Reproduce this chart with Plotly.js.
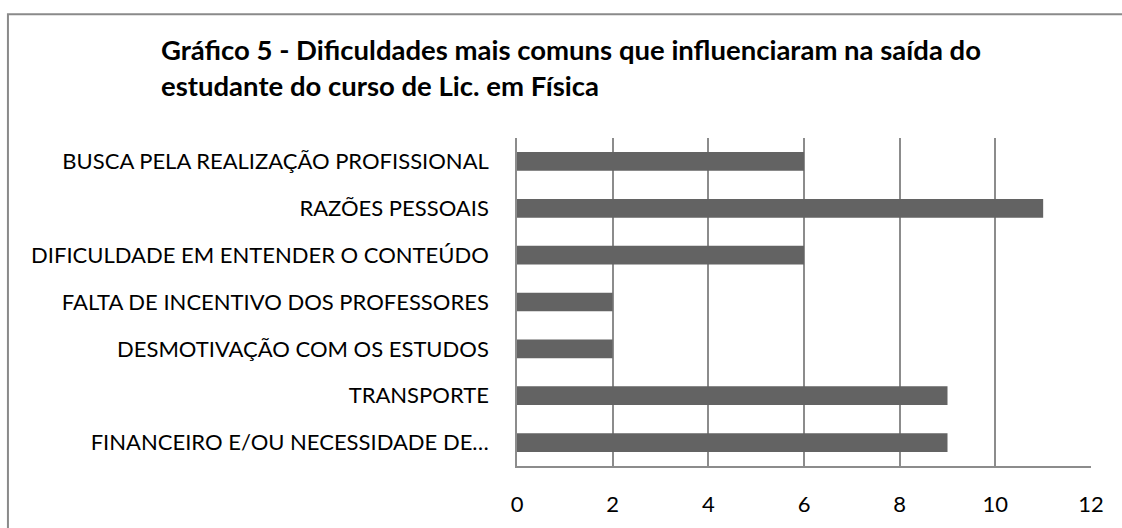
<!DOCTYPE html>
<html>
<head>
<meta charset="utf-8">
<script src="https://cdn.plot.ly/plotly-3.0.1.min.js"></script>
<style>
html,body{margin:0;padding:0;background:#fff;}
#chart{width:1122px;height:528px;}
</style>
</head>
<body>
<div id="chart"></div>
<script>
const categories = [
  "BUSCA PELA REALIZAÇÃO PROFISSIONAL",
  "RAZÕES PESSOAIS",
  "DIFICULDADE EM ENTENDER O CONTEÚDO",
  "FALTA DE INCENTIVO DOS PROFESSORES",
  "DESMOTIVAÇÃO COM OS ESTUDOS",
  "TRANSPORTE",
  "FINANCEIRO E/OU NECESSIDADE DE…"
];
const values = [6, 11, 6, 2, 2, 9, 9];
const xTicks = [0, 2, 4, 6, 8, 10, 12];
const titleText = "Gráfico 5 - Dificuldades mais comuns que influenciaram na saída do<br>estudante do curso de Lic. em Física";

const W = 1122, H = 528;
const L = 516.5, R = 1091, T = 138, B = 466.5;
const pw = R - L, ph = B - T;
const px = v => (v - L) / pw;
const py = v => (B - v) / ph;

const trace = {
  type: "bar",
  orientation: "h",
  y: categories,
  x: values,
  marker: {color: "#636363", line: {width: 0}},
  hoverinfo: "x+y"
};

const layout = {
  width: W, height: H,
  margin: {l: L, r: W - R, t: T, b: H - B, pad: 0},
  paper_bgcolor: "#ffffff",
  plot_bgcolor: "#ffffff",
  showlegend: false,
  bargap: 0.6,
  font: {family: "Lato, 'DejaVu Sans', sans-serif", size: 22, color: "#000000"},
  title: {
    text: titleText,
    font: {family: "Lato, sans-serif", size: 27.5, color: "#000000", weight: "bold"},
    x: 161 / W, xanchor: "left", xref: "container",
    y: 1 - 60 / H, yanchor: "top", yref: "container"
  },
  xaxis: {
    range: [0, 12],
    tickvals: xTicks,
    ticktext: xTicks.map(String),
    showgrid: true,
    gridcolor: "#8c8c8c",
    gridwidth: 1.5,
    zeroline: false,
    showline: true,
    linecolor: "#8c8c8c",
    linewidth: 1.5,
    mirror: false,
    ticks: "",
    ticklabelstandoff: 18,
    tickfont: {size: 22, color: "#000000"},
    fixedrange: true
  },
  yaxis: {
    autorange: "reversed",
    showgrid: false,
    zeroline: false,
    showline: true,
    linecolor: "#8c8c8c",
    linewidth: 1.5,
    ticks: "",
    ticklabelstandoff: 22,
    tickfont: {size: 22, color: "#000000"},
    fixedrange: true
  },
  shapes: [
    {type: "rect", xref: "paper", yref: "paper",
     x0: px(7), x1: px(1130), y0: py(545), y1: py(14),
     line: {color: "#8a8a8a", width: 2}, fillcolor: "rgba(0,0,0,0)", layer: "above"}
  ]
};

Plotly.newPlot("chart", [trace], layout, {displayModeBar: false, responsive: false});
</script>
</body>
</html>
